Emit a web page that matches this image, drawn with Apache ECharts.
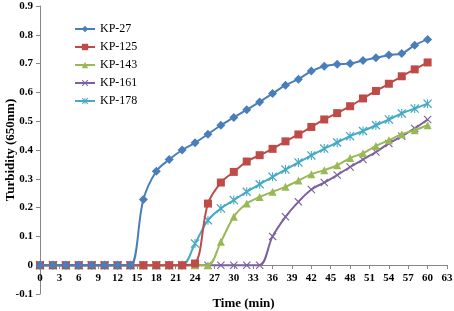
<!DOCTYPE html>
<html lang="en">
<head>
    <meta charset="UTF-8">
    <title>Turbidity</title>
    <script type="text/javascript" src="https://cdn.jsdelivr.net/npm/echarts@6/dist/echarts.min.js"></script>
    <style>
        html, body { margin: 0; padding: 0; background: #fff; }
    </style>
</head>
<body>
<div id="main" style="width: 454px;height:311px;"></div>
<script type="text/javascript">
    // time in minutes, one sample every 2 min
    var times = [0, 2, 4, 6, 8, 10, 12, 14, 16, 18, 20, 22, 24, 26, 28, 30, 32, 34, 36, 38, 40, 42, 44, 46, 48, 50, 52, 54, 56, 58, 60];

    var kp27 = [0, 0, 0, 0, 0, 0, 0, 0, 0.228, 0.326, 0.367, 0.40, 0.425, 0.455, 0.486, 0.513, 0.54, 0.567, 0.596, 0.625, 0.646, 0.674, 0.691, 0.698, 0.70, 0.711, 0.72, 0.73, 0.735, 0.764, 0.784];
    var kp125 = [0, 0, 0, 0, 0, 0, 0, 0, 0, 0, 0, 0, 0.006, 0.214, 0.287, 0.324, 0.36, 0.382, 0.404, 0.43, 0.454, 0.48, 0.506, 0.528, 0.552, 0.579, 0.605, 0.63, 0.656, 0.68, 0.704];
    var kp143 = [0, 0, 0, 0, 0, 0, 0, 0, 0, 0, 0, 0, 0, 0, 0.081, 0.168, 0.214, 0.237, 0.255, 0.272, 0.294, 0.316, 0.33, 0.347, 0.372, 0.389, 0.414, 0.434, 0.455, 0.469, 0.486];
    var kp161 = [0, 0, 0, 0, 0, 0, 0, 0, 0, 0, 0, 0, 0, 0, 0, 0, 0, 0, 0.10, 0.168, 0.22, 0.263, 0.287, 0.313, 0.341, 0.367, 0.393, 0.423, 0.448, 0.475, 0.506];
    var kp178 = [0, 0, 0, 0, 0, 0, 0, 0, 0, 0, 0, 0, 0.075, 0.156, 0.197, 0.226, 0.255, 0.281, 0.307, 0.332, 0.357, 0.381, 0.405, 0.426, 0.448, 0.466, 0.486, 0.506, 0.527, 0.544, 0.561];

    var names = ['KP-27', 'KP-125', 'KP-143', 'KP-161', 'KP-178'];
    var colors = ['#4A7EBB', '#BE4B48', '#98B954', '#7D60A0', '#46AAC5'];

    var crossPath = 'path://M0,1L1,0L5,4L9,0L10,1L6,5L10,9L9,10L5,6L1,10L0,9L4,5Z';
    var starPath = 'path://M0,1L1,0L5,4L9,0L10,1L6,5L10,9L9,10L5,6L1,10L0,9L4,5Z M4.4,0L5.6,0L5.6,10L4.4,10Z';
    var symbols = ['diamond', 'rect', 'triangle', crossPath, starPath];
    var sizes = [9, 8, 8, 8, 9];

    function pairs(vals) {
        var out = [];
        for (var i = 0; i < times.length; i++) {
            out.push([times[i], vals[i]]);
        }
        return out;
    }

    var all = [kp27, kp125, kp143, kp161, kp178];
    var series = [];
    for (var k = 0; k < all.length; k++) {
        series.push({
            name: names[k],
            type: 'line',
            data: pairs(all[k]),
            smooth: 0.35,
            symbol: symbols[k],
            symbolSize: sizes[k],
            showAllSymbol: true,
            lineStyle: { width: 2, color: colors[k] },
            itemStyle: { color: colors[k] },
            z: 10 - k
        });
    }

    var font = 'Liberation Serif';
    var myChart = echarts.init(document.getElementById('main'));
    var option = {
        animation: false,
        color: colors,
        grid: { left: 40, right: 7, top: 6, bottom: 17, containLabel: false, outerBoundsMode: 'none' },
        legend: {
            orient: 'vertical',
            left: 69,
            top: 18,
            itemWidth: 20,
            itemHeight: 8,
            itemGap: 6,
            textStyle: { fontFamily: font, fontSize: 12, color: '#000' },
            data: names
        },
        xAxis: {
            type: 'value',
            min: 0,
            max: 63,
            interval: 3,
            // axis sits on y = 0 (0.1 of the 1.0 range above the grid bottom)
            offset: -29,
            name: 'Time (min)',
            nameLocation: 'middle',
            nameGap: 32,
            nameMoveOverlap: false,
            nameTextStyle: { fontFamily: font, fontSize: 13, fontWeight: 'bold', color: '#000' },
            axisLine: { onZero: false, lineStyle: { color: '#868686', width: 1 } },
            axisTick: { show: true, length: 4, lineStyle: { color: '#868686' } },
            axisLabel: { fontFamily: font, fontSize: 11, fontWeight: 'bold', color: '#000', margin: 8 },
            splitLine: { show: false }
        },
        yAxis: {
            type: 'value',
            min: -0.1,
            max: 0.9,
            interval: 0.1,
            name: 'Turbidity (650nm)',
            nameLocation: 'middle',
            nameGap: 23,
            nameMoveOverlap: false,
            nameTextStyle: { fontFamily: font, fontSize: 13, fontWeight: 'bold', color: '#000' },
            axisLine: { show: true, lineStyle: { color: '#868686', width: 1 } },
            axisTick: { show: true, length: 4, lineStyle: { color: '#868686' } },
            axisLabel: {
                fontFamily: font, fontSize: 11, fontWeight: 'bold', color: '#000', margin: 7,
                formatter: function (v) { return Math.round(v * 10) / 10 + ''; }
            },
            splitLine: { show: false }
        },
        series: series
    };
    myChart.setOption(option);
</script>
</body>
</html>
